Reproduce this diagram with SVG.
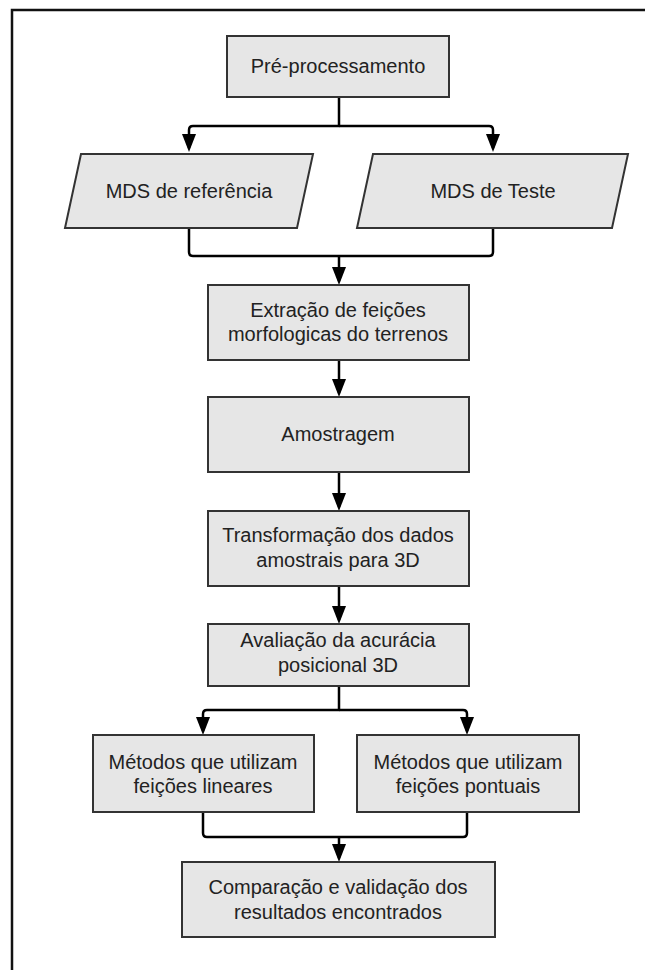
<svg xmlns="http://www.w3.org/2000/svg" width="645" height="970" viewBox="0 0 645 970">
<style>
.box{fill:#e6e6e6;stroke:#333;stroke-width:2}
.t{font-family:"Liberation Sans",Arial,sans-serif;font-size:20px;fill:#222;text-anchor:middle}
.c{fill:none;stroke:#000;stroke-width:2.5;stroke-linejoin:round}
</style>
<defs>
<marker id="ah" viewBox="0 0 18 14" markerWidth="18" markerHeight="14" refX="14" refY="7" orient="auto" markerUnits="userSpaceOnUse">
<path d="M0,0 L18,7 L0,14 z" fill="#000"/>
</marker>
</defs>
<rect width="645" height="970" fill="#fff"/>
<path d="M12,970 V10 H645" fill="none" stroke="#111" stroke-width="2.5"/>

<g id="connectors">
<path class="c" d="M339,97 V126 H193 Q189,126 189,130 V148" marker-end="url(#ah)"/>
<path class="c" d="M339,126 H489 Q493,126 493,130 V148" marker-end="url(#ah)"/>
<path class="c" d="M189,228 V252 Q189,256 193,256 H489 Q493,256 493,252 V228"/>
<path class="c" d="M339,256 V281" marker-end="url(#ah)"/>
<path class="c" d="M339,360 V393" marker-end="url(#ah)"/>
<path class="c" d="M339,472 V507" marker-end="url(#ah)"/>
<path class="c" d="M339,586 V620" marker-end="url(#ah)"/>
<path class="c" d="M339,686 V710 H207 Q203,710 203,714 V731" marker-end="url(#ah)"/>
<path class="c" d="M339,710 H463 Q467,710 467,714 V731" marker-end="url(#ah)"/>
<path class="c" d="M203,812 V833 Q203,837 207,837 H463 Q467,837 467,833 V812"/>
<path class="c" d="M339,837 V858" marker-end="url(#ah)"/>
</g>

<g id="n-pre">
<rect class="box" x="227" y="36" width="222" height="61"/>
<text class="t" x="338" y="73">Pré-processamento</text>
</g>
<g id="n-mds-ref">
<polygon class="box" points="81,154 313,154 297,228 65,228"/>
<text class="t" x="189" y="198">MDS de referência</text>
</g>
<g id="n-mds-teste">
<polygon class="box" points="373,154 628,154 612,228 357,228"/>
<text class="t" x="493" y="198">MDS de Teste</text>
</g>
<g id="n-extracao">
<rect class="box" x="208" y="285" width="261" height="75"/>
<text class="t" x="338" y="317">Extração de feições</text>
<text class="t" x="338" y="341">morfologicas do terrenos</text>
</g>
<g id="n-amostragem">
<rect class="box" x="208" y="397" width="261" height="75"/>
<text class="t" x="338" y="441">Amostragem</text>
</g>
<g id="n-transformacao">
<rect class="box" x="208" y="511" width="261" height="75"/>
<text class="t" x="338" y="542">Transformação dos dados</text>
<text class="t" x="338" y="567">amostrais para 3D</text>
</g>
<g id="n-avaliacao">
<rect class="box" x="208" y="624" width="261" height="62"/>
<text class="t" x="338" y="647">Avaliação da acurácia</text>
<text class="t" x="338" y="672">posicional 3D</text>
</g>
<g id="n-lineares">
<rect class="box" x="93" y="735" width="221" height="77"/>
<text class="t" x="203" y="769">Métodos que utilizam</text>
<text class="t" x="203" y="793">feições lineares</text>
</g>
<g id="n-pontuais">
<rect class="box" x="357" y="735" width="222" height="77"/>
<text class="t" x="468" y="769">Métodos que utilizam</text>
<text class="t" x="468" y="793">feições pontuais</text>
</g>
<g id="n-comparacao">
<rect class="box" x="182" y="862" width="313" height="75"/>
<text class="t" x="338" y="894">Comparação e validação dos</text>
<text class="t" x="338" y="919">resultados encontrados</text>
</g>
</svg>
